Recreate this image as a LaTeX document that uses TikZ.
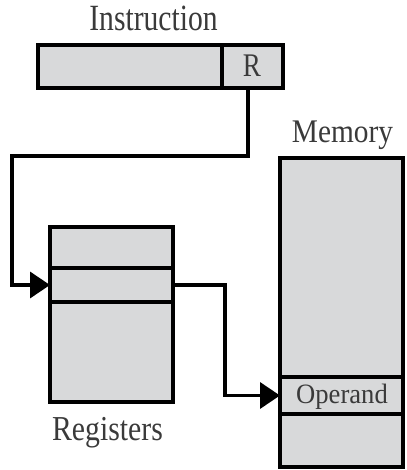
\documentclass[tikz,border=0pt]{standalone}
\usepackage{fontspec}
\setmainfont{Liberation Serif}
\usetikzlibrary{arrows.meta}
\definecolor{boxfill}{HTML}{D8D9DA}
\definecolor{txt}{HTML}{3A3A3A}
\newcommand{\mylab}[3]{\scalebox{#2}[1]{\fontsize{#1}{#1}\selectfont #3}}
\tikzset{
  cell/.style={draw=black, fill=boxfill, line width=3.5pt, inner sep=0pt, outer sep=0pt, anchor=north west},
  lbl/.style={text=txt, inner sep=0pt, anchor=base},
  conn/.style={draw=black, line width=3.5pt, line join=miter},
  tip/.style={-{Triangle[length=20pt,width=26pt]}}
}
\begin{document}
\begin{tikzpicture}[x=1pt,y=-1pt]
\useasboundingbox (0,0) rectangle (406,470);
% instruction
\node[cell, minimum width=184pt, minimum height=43pt] (ifield) at (38,45) {};
\node[cell, minimum width=61pt, minimum height=43pt] (rfield) at (222,45) {};
\node[lbl] (rlab) at (252,77) {\mylab{33}{0.82}{R}};
\node[lbl] (ilab) at (153.5,31) {\mylab{37}{0.80}{Instruction}};
% registers
\node[cell, minimum width=123pt, minimum height=41pt] (reg1) at (50,227) {};
\node[cell, minimum width=123pt, minimum height=34pt] (reg2) at (50,268) {};
\node[cell, minimum width=123pt, minimum height=100pt] (reg3) at (50,302) {};
\node[lbl] (rglab) at (107.5,440) {\mylab{35}{0.85}{Registers}};
% memory
\node[cell, minimum width=123pt, minimum height=219pt] (mem1) at (280,158) {};
\node[cell, minimum width=123pt, minimum height=37pt] (oper) at (280,377) {};
\node[cell, minimum width=123pt, minimum height=53pt] (mem3) at (280,414) {};
\node[lbl] (oplab) at (342,403) {\mylab{28}{0.95}{Operand}};
\node[lbl] (mlab) at (342.5,143) {\mylab{33}{0.89}{Memory}};
% connectors
\coordinate (c1) at (248,156);
\coordinate (c2) at (12,156);
\coordinate (c3) at (225,285);
\draw[conn, tip] (rfield.south -| c1) -- (c1) -- (c2) -- (c2 |- reg2.west) -- (reg2.west);
\draw[conn, tip] (reg2.east) -- (c3) -- (c3 |- oper.west) -- (oper.west);
\end{tikzpicture}
\end{document}
